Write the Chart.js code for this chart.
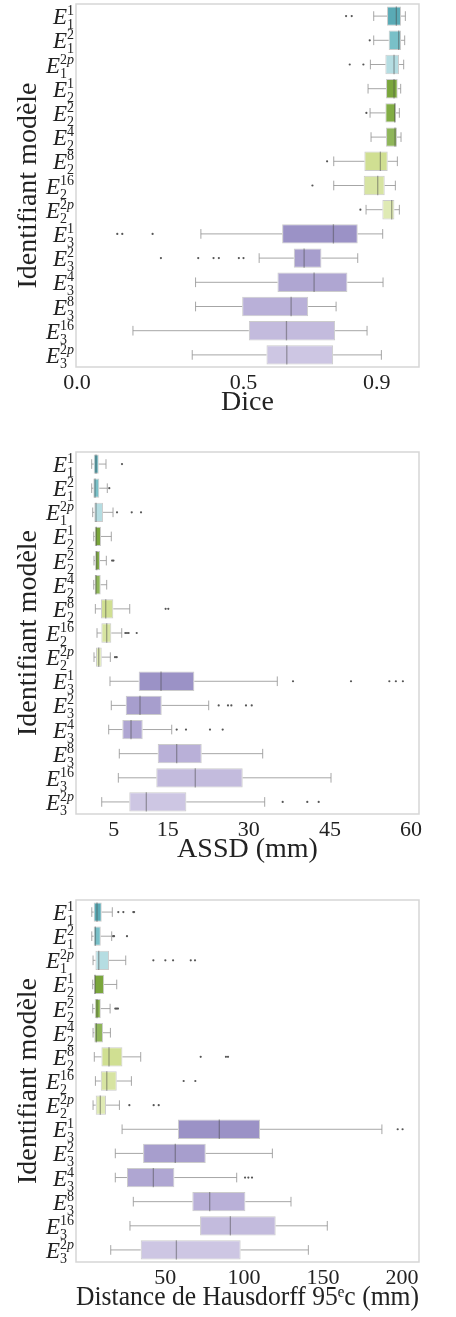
<!DOCTYPE html>
<html>
<head>
<meta charset="utf-8">
<script src="https://cdn.jsdelivr.net/npm/chart.js@4.4.1/dist/chart.umd.min.js"></script>
<style>
  body { margin: 0; background: #fff; }
  .panel { position: absolute; left: 0; width: 456px; }
</style>
</head>
<body>
<div class="panel" style="top:0"><canvas id="diceChart" width="456" height="440"></canvas></div>
<div class="panel" style="top:440px"><canvas id="assdChart" width="456" height="440"></canvas></div>
<div class="panel" style="top:880px"><canvas id="hdChart" width="456" height="437"></canvas></div>
<script>
// model identifiers E_sub^sup
const rowSub = ['1', '1', '1', '2', '2', '2', '2', '2', '2', '3', '3', '3', '3', '3', '3'];
const rowSup = ['1', '2', '2p', '1', '2', '4', '8', '16', '2p', '1', '2', '4', '8', '16', '2p'];
const labels = rowSub.map((s, i) => 'E_' + s + '^' + rowSup[i]);
const rowColors = ['#5aaab5', '#79c0c8', '#b5dde2', '#7aa63c', '#82ad45', '#8fb65a', '#d0df92', '#d7e4a2',
  '#dfeab4', '#9b92c6', '#a79ecd', '#afa6d2', '#b9b0d8', '#c3bbdd', '#cdc6e3'];

// Dice
const diceLow  = [0.891, 0.891, 0.881, 0.874, 0.880, 0.883, 0.771, 0.771, 0.868, 0.372, 0.547, 0.356, 0.356, 0.168, 0.346];
const diceQ1   = [0.931, 0.936, 0.926, 0.928, 0.926, 0.928, 0.863, 0.861, 0.917, 0.616, 0.651, 0.602, 0.496, 0.516, 0.569];
const diceMed  = [0.959, 0.966, 0.952, 0.952, 0.954, 0.955, 0.911, 0.903, 0.945, 0.770, 0.682, 0.712, 0.643, 0.629, 0.630];
const diceQ3   = [0.973, 0.973, 0.967, 0.963, 0.958, 0.961, 0.933, 0.924, 0.953, 0.843, 0.734, 0.812, 0.694, 0.775, 0.769];
const diceHigh = [0.986, 0.984, 0.981, 0.972, 0.968, 0.973, 0.962, 0.956, 0.968, 0.918, 0.843, 0.919, 0.778, 0.871, 0.914];
const diceOut  = [[0.808, 0.825], [0.879], [0.819, 0.860], [], [0.869], [], [0.751], [0.707], [0.851],
  [0.121, 0.136, 0.227], [0.252, 0.364, 0.410, 0.426, 0.486, 0.500], [], [], [], []];
const diceTicks = [0, 0.5, 0.9];

// ASSD (mm)
const assdLow  = [0.92, 0.92, 1.11, 1.30, 1.35, 1.30, 1.60, 1.91, 1.35, 4.31, 4.55, 4.07, 6.03, 5.85, 2.78];
const assdQ1   = [1.30, 1.22, 1.41, 1.48, 1.54, 1.48, 2.65, 2.71, 1.72, 9.62, 7.22, 6.59, 13.14, 12.88, 7.88];
const assdMed  = [1.72, 1.54, 1.72, 1.78, 1.85, 1.72, 3.52, 3.70, 2.22, 13.75, 9.86, 8.20, 16.65, 20.09, 11.03];
const assdQ3   = [2.22, 2.33, 3.02, 2.65, 2.46, 2.59, 4.92, 4.55, 2.78, 19.91, 13.88, 10.36, 21.28, 28.86, 18.43];
const assdHigh = [3.57, 3.81, 4.87, 4.55, 3.63, 3.70, 7.96, 6.48, 4.37, 35.26, 22.57, 15.73, 32.56, 45.20, 32.93];
const assdOut  = [[6.53], [4.18], [5.61, 8.33, 10.05], [], [4.70, 4.95], [], [14.6, 15.1], [7.15, 7.45, 7.75, 9.25],
  [5.24, 5.55], [38.17, 48.9, 55.99, 57.2, 58.5], [24.42, 26.14, 26.76, 29.47, 30.53],
  [16.65, 18.37, 22.81, 25.16], [], [], [36.26, 40.81, 42.92]];
const assdTicks = [5, 15, 30, 45, 60];

// Hausdorff 95 (mm)
const hdLow  = [3.5, 3.5, 4.3, 4.1, 4.1, 4.3, 5.1, 5.8, 4.3, 22.7, 18.4, 18.4, 29.8, 27.7, 15.5];
const hdQ1   = [4.7, 4.7, 5.8, 4.9, 5.4, 5.1, 9.6, 9.2, 6.0, 58.1, 36.0, 25.8, 67.2, 72.1, 34.5];
const hdMed  = [6.8, 5.8, 7.9, 5.6, 6.8, 6.4, 14.4, 13.0, 8.9, 84.3, 56.4, 42.5, 78.2, 91.3, 57.1];
const hdQ3   = [9.8, 9.2, 14.4, 11.3, 9.2, 10.6, 22.9, 19.3, 12.5, 110.1, 75.7, 55.8, 100.8, 120.0, 97.8];
const hdHigh = [16.5, 16.1, 25.0, 19.3, 15.1, 15.3, 34.5, 28.6, 21.0, 187.3, 117.9, 95.3, 129.7, 152.7, 140.7];
const hdOut  = [[20.3, 23.5, 29.8, 30.3], [17.0, 17.6, 25.8], [42.5, 50.1, 55.0, 66.2, 68.9], [], [18.4, 19.3, 20.1], [],
  [72.5, 88.5, 89.8], [61.7, 69.1], [27.3, 42.7, 45.9], [197.3, 200.4], [], [100.6, 102.7, 105.0], [], [], []];
const hdTicks = [50, 100, 150, 200];

const serif = '"Liberation Serif", "DejaVu Serif", serif';
const textColor = '#222';

// whiskers, caps and medians drawn on top of the floating bars
const boxExtras = {
  id: 'boxExtras',
  afterDatasetsDraw(chart, args, opts) {
    const { ctx } = chart;
    const xs = chart.scales.x, ys = chart.scales.y;
    const bars = chart.getDatasetMeta(0).data;
    ctx.save();
    ctx.lineWidth = 1;
    labels.forEach((_, i) => {
      const y = ys.getPixelForValue(i);
      const h = bars[i].height;
      const lo = xs.getPixelForValue(opts.low[i]), q1 = xs.getPixelForValue(opts.q1[i]);
      const q3 = xs.getPixelForValue(opts.q3[i]), hi = xs.getPixelForValue(opts.high[i]);
      ctx.strokeStyle = 'rgba(150,150,150,0.85)';
      ctx.beginPath();
      ctx.moveTo(lo, y); ctx.lineTo(q1, y);
      ctx.moveTo(q3, y); ctx.lineTo(hi, y);
      ctx.moveTo(lo, y - h / 4); ctx.lineTo(lo, y + h / 4);
      ctx.moveTo(hi, y - h / 4); ctx.lineTo(hi, y + h / 4);
      ctx.stroke();
      const m = xs.getPixelForValue(opts.med[i]);
      ctx.strokeStyle = 'rgba(70,70,70,0.45)';
      ctx.lineWidth = 1.3;
      ctx.beginPath();
      ctx.moveTo(m, y - h / 2); ctx.lineTo(m, y + h / 2);
      ctx.stroke();
      ctx.lineWidth = 1;
    });
    ctx.restore();
  },
  afterDraw(chart) {
    const { ctx, chartArea: a } = chart;
    const ys = chart.scales.y;
    ctx.save();
    ctx.strokeStyle = '#d6d6d6';
    ctx.lineWidth = 1.5;
    ctx.strokeRect(a.left, a.top, a.right - a.left, a.bottom - a.top);
    // y tick labels E_sub^sup
    ctx.fillStyle = textColor;
    ctx.textBaseline = 'alphabetic';
    labels.forEach((_, i) => {
      const yc = ys.getPixelForValue(i);
      ctx.font = '14px ' + serif;
      const supW = ctx.measureText(rowSup[i]).width;
      const subW = ctx.measureText(rowSub[i]).width;
      const sx = a.left - 2 - Math.max(supW, subW);
      ctx.textAlign = 'right';
      ctx.font = 'italic 23px ' + serif;
      ctx.fillText('E', sx, yc + 8);
      ctx.textAlign = 'left';
      ctx.font = '14px ' + serif;
      const sup = rowSup[i];
      if (sup.endsWith('p')) {
        const num = sup.slice(0, -1);
        ctx.fillText(num, sx, yc - 1);
        const w = ctx.measureText(num).width;
        ctx.font = 'italic 14px ' + serif;
        ctx.fillText('p', sx + w, yc - 1);
        ctx.font = '14px ' + serif;
      } else {
        ctx.fillText(sup, sx, yc - 1);
      }
      ctx.fillText(rowSub[i], sx, yc + 13);
    });
    ctx.restore();
  }
};

function makeChart(id, cfg) {
  const ctx = document.getElementById(id).getContext('2d');
  const outliers = [];
  cfg.out.forEach((vals, i) => vals.forEach(v => outliers.push({ x: v, y: labels[i] })));

  return new Chart(ctx, {
    type: 'bar',
    data: {
      labels: labels,
      datasets: [{
        data: labels.map((_, i) => [cfg.q1[i], cfg.q3[i]]),
        backgroundColor: rowColors,
        borderColor: 'rgba(110,110,110,0.35)',
        borderWidth: 1,
        borderSkipped: false,
        barPercentage: 0.8,
        categoryPercentage: 1
      }, {
        type: 'scatter',
        data: outliers,
        pointRadius: 1.1,
        pointBackgroundColor: '#555',
        pointBorderWidth: 0
      }]
    },
    options: {
      indexAxis: 'y',
      responsive: false,
      animation: false,
      events: [],
      layout: { padding: { top: cfg.padTop, bottom: cfg.padBottom, left: 0, right: 37 } },
      plugins: {
        legend: { display: false },
        tooltip: { enabled: false },
        boxExtras: { low: cfg.low, q1: cfg.q1, med: cfg.med, q3: cfg.q3, high: cfg.high }
      },
      scales: {
        x: {
          type: 'linear',
          min: cfg.min,
          max: cfg.max,
          grid: { display: false, drawTicks: false },
          border: { display: false },
          afterBuildTicks: scale => { scale.ticks = cfg.ticks.map(v => ({ value: v })); },
          afterFit: scale => { scale.height = 50; },
          ticks: {
            padding: 3,
            color: textColor,
            font: { family: serif, size: 22 },
            callback: cfg.fmt
          },
          title: {
            display: true,
            text: cfg.title,
            color: textColor,
            font: { family: serif, size: 28, lineHeight: 1 },
            padding: 0
          }
        },
        y: {
          type: 'category',
          offset: true,
          grid: { display: false, drawTicks: false },
          border: { display: false },
          ticks: { display: false },
          afterFit: scale => { scale.width = 76; },
          title: {
            display: true,
            text: 'Identifiant modèle',
            color: textColor,
            font: { family: serif, size: 28, lineHeight: 1 },
            padding: { top: 15, bottom: 0 }
          }
        }
      }
    },
    plugins: [boxExtras]
  });
}

makeChart('diceChart', {
  low: diceLow, q1: diceQ1, med: diceMed, q3: diceQ3, high: diceHigh, out: diceOut,
  min: -0.003, max: 1.027, ticks: diceTicks, fmt: v => v.toFixed(1), title: 'Dice',
  padTop: 4, padBottom: 23
});
makeChart('assdChart', {
  low: assdLow, q1: assdQ1, med: assdMed, q3: assdQ3, high: assdHigh, out: assdOut,
  min: -1.98, max: 61.48, ticks: assdTicks, fmt: v => String(v), title: 'ASSD (mm)',
  padTop: 12, padBottom: 16
});
makeChart('hdChart', {
  low: hdLow, q1: hdQ1, med: hdMed, q3: hdQ3, high: hdHigh, out: hdOut,
  min: -6.5, max: 210.8, ticks: hdTicks, fmt: v => String(v), title: 'Distance de Hausdorff 95ᵉc (mm)',
  padTop: 20, padBottom: 5
});
</script>
</body>
</html>
